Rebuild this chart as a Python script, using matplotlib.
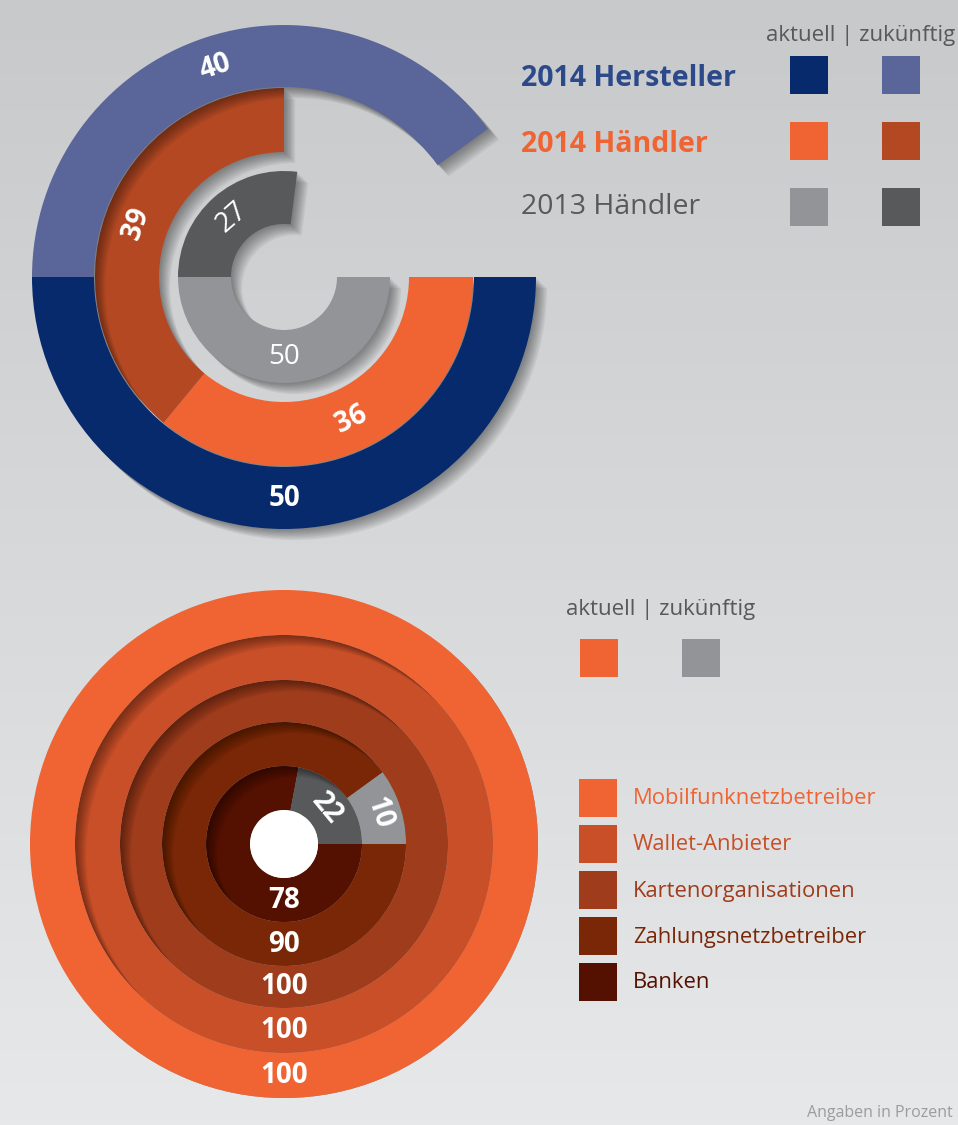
import numpy as np
import matplotlib
matplotlib.use("Agg")
import matplotlib.pyplot as plt
import matplotlib.patheffects as pe
from matplotlib.colors import LinearSegmentedColormap
from matplotlib.patches import Rectangle, Circle

plt.rcParams['font.family'] = ['Open Sans', 'DejaVu Sans']

# oberes Diagramm: Angaben in Prozent
gruppen = ['2014 Hersteller', '2014 Händler', '2013 Händler']
aktuell = [50, 36, 50]
zukuenftig = [40, 39, 27]
farben_aktuell = ['#062a6b', '#f06332', '#939497']
farben_zukunft = ['#5a6699', '#b34823', '#58595b']
text_farben = ['#2c4a8a', '#f06332', '#58595b']

# unteres Diagramm
anbieter = ['Mobilfunknetzbetreiber', 'Wallet-Anbieter', 'Kartenorganisationen',
            'Zahlungsnetzbetreiber', 'Banken']
anbieter_aktuell = [100, 100, 100, 90, 78]
anbieter_zukunft = [0, 0, 0, 10, 22]
anbieter_farben = ['#f06332', '#c84f28', '#9f3c1c', '#792706', '#541000']
zukunft_grau = ['#939497', '#939497', '#939497', '#939497', '#58595b']

W, H = 958, 1125
fig = plt.figure(figsize=(W / 100, H / 100), dpi=100)

# Hintergrund mit Verlauf
ax0 = fig.add_axes([0, 0, 1, 1])
verlauf = np.linspace(0, 1, 256).reshape(-1, 1)
cmap = LinearSegmentedColormap.from_list('bg', ['#c8c9cb', '#e7e8e9'])
ax0.imshow(verlauf, cmap=cmap, extent=[0, W, H, 0], origin='upper', aspect='auto')
ax0.set_xlim(0, W)
ax0.set_ylim(H, 0)
ax0.set_axis_off()


def polar_achse(cx, cy, R):
    ax = fig.add_axes([(cx - R) / W, (H - cy - R) / H, 2 * R / W, 2 * R / H],
                      projection='polar')
    ax.set_theta_zero_location('E')
    ax.set_theta_direction(-1)
    ax.set_ylim(0, R)
    ax.set_axis_off()
    return ax, R


def schatten(tiefe=8.0, n=8, alpha=0.055):
    return [pe.SimplePatchShadow(offset=(d, -d), shadow_rgbFace='black', alpha=alpha)
            for d in np.linspace(1.0, tiefe, n)]


def ring(ax, r_in, r_out, werte, farben, clip=None):
    thetas, breiten, cols = [], [], []
    start = 0.0
    for w, c in zip(werte, farben):
        if w > 0:
            thetas.append(np.deg2rad(start * 3.6))
            breiten.append(np.deg2rad(w * 3.6))
            cols.append(c)
        start += w
    sh = ax.bar(thetas, r_out - r_in, width=breiten, bottom=r_in, align='edge',
                color='black', linewidth=0)
    for p in sh:
        p.set_path_effects(schatten())
        if clip is not None:
            p.set_clip_path(clip)
    ax.bar(thetas, r_out - r_in, width=breiten, bottom=r_in, align='edge',
           color=cols, linewidth=0)


def label(ax, mitte_cw, r, s, bold=True, size=20):
    mathe = (-mitte_cw) % 360
    if 180 < mathe < 360:
        rot = mathe - 270
    else:
        rot = mathe - 90
    ax.text(np.deg2rad(mitte_cw), r, s, color='white', ha='center', va='center',
            rotation=rot, rotation_mode='anchor', fontsize=size,
            fontweight='bold' if bold else 'normal')


# ---- oberes Diagramm ----
ax1, R1 = polar_achse(284, 277, 285)
radien_oben = [(190, 252), (125, 189), (53, 106)]
for i in [2, 1, 0]:
    r_in, r_out = radien_oben[i]
    ring(ax1, r_in, r_out, [aktuell[i], zukuenftig[i]],
         [farben_aktuell[i], farben_zukunft[i]])
for i in range(3):
    r_in, r_out = radien_oben[i]
    rm = (r_in + r_out) / 2
    fett = i < 2
    label(ax1, aktuell[i] * 3.6 / 2, rm, str(aktuell[i]), bold=fett)
    label(ax1, (aktuell[i] + zukuenftig[i] / 2) * 3.6, rm, str(zukuenftig[i]), bold=fett)

# Legende oben
ax0.text(861, 36, 'aktuell | zukünftig', color='#58595b', fontsize=16,
         ha='center', va='center')
zeilen_y = [75, 141, 207]
for i, g in enumerate(gruppen):
    ax0.text(521, zeilen_y[i] + 3 - 3 * (i == 2), g, color=text_farben[i], fontsize=20.5,
             fontweight='bold' if i < 2 else 'normal', ha='left', va='center')
    ax0.add_patch(Rectangle((790, zeilen_y[i] - 19), 38, 38, color=farben_aktuell[i], lw=0))
    ax0.add_patch(Rectangle((882, zeilen_y[i] - 19), 38, 38, color=farben_zukunft[i], lw=0))

# ---- unteres Diagramm ----
ax2, R2 = polar_achse(284, 844, 285)
radien_unten = [(209, 254), (164, 209), (122, 164), (78, 122), (34, 78)]
rand = Circle((0.5, 0.5), 254 / (2 * R2), transform=ax2.transAxes)
for i in [4, 3, 2, 1, 0]:
    r_in, r_out = radien_unten[i]
    ring(ax2, r_in, r_out, [anbieter_aktuell[i], anbieter_zukunft[i]],
         [anbieter_farben[i], zukunft_grau[i]], clip=rand)
ax2.bar([0], [34], width=2 * np.pi, bottom=0, align='edge', color='white', linewidth=0)
for i in range(5):
    r_in, r_out = radien_unten[i]
    rm = (r_in + r_out) / 2
    label(ax2, 90, rm, str(anbieter_aktuell[i]))
    if anbieter_zukunft[i] > 0:
        label(ax2, (anbieter_aktuell[i] + anbieter_zukunft[i] / 2) * 3.6, rm,
              str(anbieter_zukunft[i]))

# Legende unten
ax0.text(566, 610, 'aktuell | zukünftig', color='#58595b', fontsize=16,
         ha='left', va='center')
ax0.add_patch(Rectangle((580, 639), 38, 38, color='#f06332', lw=0))
ax0.add_patch(Rectangle((682, 639), 38, 38, color='#939497', lw=0))
for i, a in enumerate(anbieter):
    y = 798 + 46 * i
    ax0.add_patch(Rectangle((579, y - 19), 38, 38, color=anbieter_farben[i], lw=0))
    ax0.text(633, y + 1, a, color=anbieter_farben[i], fontsize=15.8, ha='left', va='center')

ax0.text(953, 1113, 'Angaben in Prozent', color='#9b9c9e', fontsize=11.5,
         ha='right', va='center')

fig.savefig('out.png', dpi=100)
